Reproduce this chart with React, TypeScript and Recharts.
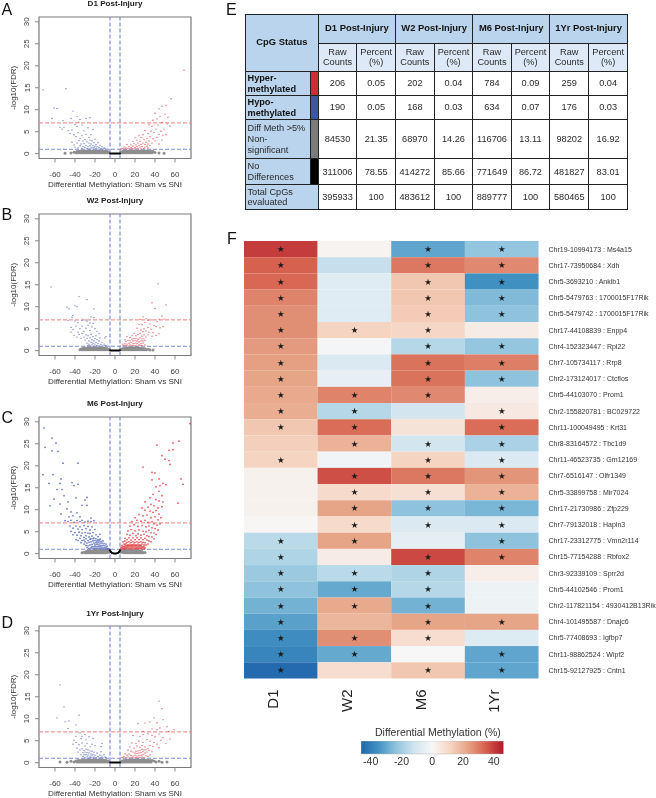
import React from "react";
import { ScatterChart, Scatter, XAxis, YAxis, ReferenceLine, ReferenceArea } from "recharts";

type P = number[];
const volcanoTicksX = [-60, -40, -20, 0, 20, 40, 60];
const volcanoTicksY = [0, 5, 10, 15, 20, 25, 30];

const aGray: P[] = [[-50,.1],[-44,.15],[-41,.3],[-39,.2],[-38,.5],[-37,.2],[-36,.55],[-35,.2],[-34,.6],[-33,.2],[-32,.6],[-31,.2],[-30,.6],[-29,.2],[-28,.6],[-27,.2],[-26,.6],[-25,.2],[-24,.6],[-23,.2],[-22,.6],[-21,.2],[-20,.6],[-19,.2],[-18,.6],[-17,.2],[-16,.6],[-15,.2],[-14,.6],[-13,.2],[-12,.6],[-11,.2],[-10,.6],[-9,.2],[-8,.55],[-7,.2],[-6,.4],[6,.4],[7,.2],[8,.55],[9,.2],[10,.6],[11,.2],[12,.6],[13,.2],[14,.6],[15,.2],[16,.6],[17,.2],[18,.6],[19,.2],[20,.6],[21,.2],[22,.6],[23,.2],[24,.6],[25,.2],[26,.6],[27,.2],[28,.6],[29,.2],[30,.6],[31,.2],[32,.6],[33,.2],[34,.6],[35,.2],[36,.55],[37,.2],[38,.5],[40,.25],[44,.15],[49,.1]];
const aBlack: P[] = [[-5,.05],[-4,.02],[-3,.02],[-2,.01],[-1,.01],[0,.01],[1,.01],[2,.01],[3,.02],[4,.02],[5,.05]];
const aBlue: P[] = [[-72,14.5],[-49,14.8],[-61,10.4],[-58,10.3],[-63,8],[-42,9.7],[-38,8.5],[-35,7.8],[-25,8.2],[-29,8],[-52,7.5],[-44,8],[-36,7.2],[-38,6.2],[-40,6.6],[-33,6.5],[-55,6],[-53,5.6],[-51,6],[-47,5.2],[-45,4.6],[-43,5.4],[-41,4.3],[-39,3.9],[-37,4.8],[-35,3.5],[-33,4.1],[-31,5.2],[-29,4.4],[-27,5.9],[-26,3.7],[-24,4.3],[-22,5.5],[-43,2.6],[-41,2],[-40,1.5],[-38,2.4],[-37,1.3],[-36,3],[-35,1.8],[-34,2.2],[-33,1.2],[-32,2.9],[-32,1.6],[-31,2.3],[-30,1.4],[-30,3.2],[-29,1.9],[-28,2.7],[-28,1.2],[-27,1.6],[-26,2.4],[-26,1.1],[-25,3.1],[-25,1.8],[-24,1.3],[-24,2.2],[-23,2.9],[-23,1.5],[-22,1.9],[-22,1.1],[-21,2.5],[-21,1.4],[-20,3.3],[-20,1.7],[-19,1.2],[-19,2.1],[-18,1.6],[-17,2.5],[-17,1.1],[-16,1.4],[-15,1.9],[-14,1.2],[-13,1.6],[-12,1.1],[-11,1.3],[-10,1.2]];
const aRed: P[] = [[69,19],[56,12.5],[51,11],[47,10.8],[44,10.2],[40,9.2],[45,8.5],[50,9],[53,8.3],[42,7.9],[38,7.6],[47,7.1],[52,6.8],[55,6.3],[43,6.5],[37,6.2],[34,6.6],[49,5.6],[46,5.1],[41,5.6],[39,4.8],[36,5.1],[33,4.6],[30,5.3],[28,4.3],[44,4.4],[48,4.2],[42,3.7],[38,3.4],[35,3.9],[32,3.5],[29,3.2],[26,3.7],[24,4.2],[22,3.1],[20,3.6],[18,2.8],[40,2.9],[37,2.4],[35,1.9],[34,2.9],[33,2.2],[33,1.3],[32,1.7],[31,2.6],[30,1.5],[30,2.1],[29,1.2],[28,2.4],[27,1.6],[26,2.1],[26,1.1],[25,2.8],[25,1.5],[24,1.9],[23,1.2],[23,2.4],[22,1.6],[21,2],[21,1.1],[20,1.4],[19,2.3],[19,1.1],[18,1.7],[17,1.2],[16,2],[16,1.4],[15,1.1],[14,1.6],[13,1.2],[12,2.1],[11,1.3],[10,1.1],[9,1.5],[8,1.1],[7,1.2],[6,1.05],[44,2.2],[47,3.1],[51,4.3]];

const bGray: P[] = [[-35,.2],[-34,.4],[-33,.2],[-32,.55],[-31,.2],[-30,.6],[-29,.2],[-28,.6],[-27,.2],[-26,.65],[-25,.2],[-24,.65],[-23,.2],[-22,.65],[-21,.2],[-20,.65],[-19,.2],[-18,.65],[-17,.2],[-16,.65],[-15,.2],[-14,.65],[-13,.2],[-12,.6],[-11,.2],[-10,.6],[-9,.2],[-8,.5],[-7,.2],[-6,.35],[6,.35],[7,.2],[8,.5],[9,.2],[10,.55],[11,.2],[12,.6],[13,.2],[14,.65],[15,.2],[16,.65],[17,.2],[18,.65],[19,.2],[20,.65],[21,.2],[22,.65],[23,.2],[24,.6],[25,.2],[26,.55],[27,.2],[28,.5],[29,.2],[30,.45],[31,.2],[33,.3],[35,.15],[38,.15]];
const bBlack: P[] = [[-5,.1],[-4,.05],[-3,.03],[-2,.02],[-1,.02],[0,.02],[1,.02],[2,.02],[3,.03],[4,.05],[5,.1]];
const bBlue: P[] = [[-64,14.5],[-36,12.3],[-28,11.6],[-48,9.9],[-46,9.5],[-40,10.2],[-38,10],[-21,9.5],[-43,7.6],[-42,8],[-29,7],[-24,7.7],[-21,7.5],[-47,6.9],[-40,6.8],[-37,6.4],[-33,6.9],[-28,6.7],[-25,6.3],[-22,6.2],[-44,5.3],[-42,4.8],[-39,5.6],[-37,4.2],[-35,5],[-33,5.6],[-31,4.4],[-29,5.1],[-27,5.8],[-25,4.6],[-23,5.4],[-20,5],[-18,4.4],[-16,3.9],[-44,4.2],[-41,3.5],[-38,3.1],[-36,3.7],[-34,2.8],[-33,3.9],[-31,3.1],[-30,2.4],[-29,3.6],[-28,1.7],[-28,2.8],[-27,1.2],[-27,3.4],[-26,2.2],[-26,1.5],[-25,2.9],[-25,1.1],[-24,3.7],[-24,1.9],[-23,2.5],[-23,1.3],[-22,3.2],[-22,1.7],[-21,2.2],[-21,1.1],[-20,2.8],[-20,1.5],[-19,3.4],[-19,1.9],[-18,1.2],[-18,2.5],[-17,1.6],[-16,2.2],[-16,1.1],[-15,2.9],[-14,1.4],[-13,1.9],[-12,1.1],[-11,1.5],[-10,2.9],[-10,1.2],[-9,1.1],[-9,3.2]];
const bRed: P[] = [[43,15.2],[37,10.9],[51,10.4],[40,9.6],[44,7.2],[47,7.9],[49,7.2],[25,7.1],[28,7.7],[31,7.3],[33,6.9],[37,7],[42,6.6],[24,6],[27,5.9],[30,6.4],[35,6.1],[39,5.7],[41,5.5],[45,5.2],[48,5.5],[33,5.3],[29,5],[26,4.7],[22,5.1],[36,4.9],[31,4.5],[28,4.3],[34,4.2],[38,4.1],[44,3.9],[41,3.5],[37,3.3],[33,3.6],[31,3.1],[29,3.6],[27,3.3],[25,3.9],[23,3.7],[21,3.4],[19,3.9],[17,3.5],[15,3],[12,3.2],[10,2.5],[30,2.3],[30,1.3],[29,2.7],[28,1.7],[28,2.2],[27,1.2],[27,2.7],[26,1.6],[26,2.2],[25,1.2],[25,2.9],[24,2],[24,1.3],[23,2.6],[22,1.6],[22,2.2],[21,1.1],[21,2.8],[20,1.7],[20,2.3],[19,1.2],[19,2.8],[18,1.6],[18,2.2],[17,1.2],[17,2.6],[16,1.9],[15,1.3],[15,2.3],[14,1.7],[13,1.1],[13,2.3],[12,1.5],[11,1.2],[11,2.1],[10,1.6],[9,1.2],[8,1.5],[8,1.1]];

const cGray: P[] = [[-33,.2],[-31,.3],[-30,.2],[-29,.5],[-28,.2],[-27,.6],[-26,.2],[-25,.65],[-24,.2],[-23,.65],[-22,.2],[-21,.7],[-20,.2],[-19,.7],[-18,.2],[-17,.7],[-16,.2],[-15,.7],[-14,.2],[-13,.7],[-12,.2],[-11,.7],[-10,.2],[-9,.7],[-8,.25],[-7,.7],[-6,.35],[-5.5,.75],[5.5,.75],[6,.35],[7,.7],[8,.25],[9,.7],[10,.2],[11,.7],[12,.2],[13,.7],[14,.2],[15,.7],[16,.2],[17,.7],[18,.2],[19,.7],[20,.2],[21,.65],[22,.2],[23,.65],[24,.2],[25,.6],[26,.2],[27,.5],[28,.2],[30,.25]];
const cBlack: P[] = [[-5,.8],[-4.5,.55],[-4,.4],[-3.5,.25],[-3,.15],[-2,.1],[-1,.05],[0,.05],[1,.05],[2,.1],[3,.15],[3.5,.25],[4,.4],[4.5,.55],[5,.8]];
const cBlue: P[] = [[-71,28.6],[-70,24.2],[-63,26.3],[-59,25.2],[-63,23.4],[-57,23.3],[-52,20.6],[-37,20.6],[-72,18],[-62,18],[-66,16],[-54,17],[-55,16],[-43,16.2],[-37,15.8],[-41,15.5],[-58,14.6],[-53,14.6],[-51,13.2],[-61,12.4],[-39,12.7],[-28,12.8],[-30,12.2],[-47,11.8],[-65,10.9],[-55,11.3],[-28,11],[-33,11],[-48,10.2],[-44,9.5],[-38,9.3],[-54,9],[-35,8.4],[-42,8.6],[-46,8.4],[-24,8.1],[-50,7.5],[-47,7.3],[-44,7.6],[-41,7.1],[-38,7.5],[-35,7.3],[-33,7.6],[-30,7.2],[-27,7.4],[-24,7.3],[-21,7.5],[-45,6.3],[-42,5.8],[-39,6.3],[-37,5.6],[-35,6.1],[-33,5.5],[-31,6.4],[-29,5.7],[-27,6.2],[-25,5.4],[-23,6.1],[-20,5.5],[-44,5.1],[-42,4.3],[-40,4.8],[-38,4.2],[-36,4.9],[-34,4.1],[-33,4.7],[-31,3.7],[-30,4.8],[-29,4.1],[-27,4.7],[-26,3.8],[-25,4.6],[-23,4],[-22,4.8],[-21,3.6],[-19,4.3],[-17,3.9],[-15,4.4],[-39,3.2],[-37,3],[-35,3.5],[-34,2.5],[-33,3],[-31,2.2],[-31,3.1],[-30,2.7],[-29,1.9],[-29,3.4],[-28,2.4],[-28,1.4],[-27,3],[-27,1.8],[-26,2.6],[-26,1.2],[-25,3.3],[-25,2],[-24,2.7],[-24,1.3],[-24,3.4],[-23,2.1],[-23,1.6],[-22,2.9],[-22,1.2],[-22,3.4],[-21,2.4],[-21,1.6],[-20,3],[-20,2],[-20,1.2],[-19,3.4],[-19,2.5],[-19,1.6],[-18,2.9],[-18,2.1],[-18,1.2],[-17,3.2],[-17,2.5],[-17,1.6],[-16,2.9],[-16,2],[-16,1.2],[-15,3.3],[-15,2.4],[-15,1.6],[-14,2.8],[-14,1.9],[-14,1.2],[-13,2.4],[-13,1.5],[-12,2.9],[-12,1.9],[-12,1.1],[-11,2.3],[-11,1.4],[-10,1.8],[-10,1.1],[-9,2.2],[-9,1.4],[-8,1.1],[-8,1.7],[-7,1.2],[-6,1.1]];
const cRed: P[] = [[75,29.6],[64,25.6],[58,25.2],[42,24.7],[54,23.5],[58,23.7],[47,22.3],[50,21.5],[54,21.2],[55,20.3],[28,19.7],[37,18.5],[40,18.4],[44,17],[66,17],[68,15.8],[48,16],[45,15.5],[51,15.7],[37,16.8],[41,15.2],[44,14.2],[38,13.5],[47,13.2],[35,12.7],[41,12.3],[44,12],[48,11.8],[63,11.5],[30,11.8],[36,11.2],[33,10.6],[39,10.9],[43,10.4],[47,10.7],[27,10.4],[30,9.9],[35,9.7],[38,9.4],[41,9.8],[44,9],[46,8.2],[20,8.2],[24,8.9],[28,8.6],[32,8.8],[36,8.2],[40,8.4],[43,7.7],[17,7.3],[22,7.6],[26,7.4],[30,7.6],[33,7.1],[37,7.3],[39,6.8],[42,6.5],[45,6.8],[15,6.3],[19,6.6],[23,6.2],[27,6.4],[31,6.1],[34,6.3],[37,5.9],[40,5.7],[43,5.4],[13,5.2],[16,5.5],[20,5.2],[24,5.4],[28,5.1],[31,5],[34,5.3],[36,4.8],[39,4.7],[41,4.4],[12,4.4],[15,4.2],[18,4.6],[21,4.1],[23,4.5],[26,4.2],[29,4.4],[32,4.1],[34,3.9],[37,3.8],[39,3.4],[10,3.5],[12,3.2],[14,3.6],[16,3.1],[18,3.6],[20,3.2],[22,3.6],[24,3.2],[26,3.6],[28,3.2],[30,3.5],[32,3.1],[34,2.9],[36,2.7],[8,2.7],[9,2.2],[10,2.9],[11,2.3],[12,2.6],[13,2],[14,2.7],[15,2.2],[16,2.6],[17,2],[18,2.7],[19,2.2],[20,2.6],[21,2],[22,2.7],[23,2.2],[24,2.6],[25,2],[26,2.7],[27,2.2],[28,2.6],[29,2],[30,2.5],[31,2],[33,2.2],[6,1.5],[6,1.1],[7,1.9],[7,1.3],[8,1.6],[8,1.1],[9,1.6],[9,1.2],[10,2],[10,1.5],[10,1.1],[11,1.7],[11,1.2],[12,1.9],[12,1.4],[13,1.6],[13,1.1],[14,1.9],[14,1.3],[15,1.7],[15,1.1],[16,1.9],[16,1.4],[17,1.6],[17,1.1],[18,2],[18,1.4],[19,1.7],[19,1.1],[20,1.9],[20,1.3],[21,1.6],[21,1.1],[22,1.9],[22,1.3],[23,1.6],[23,1.1],[24,1.9],[24,1.3],[25,1.6],[25,1.1],[26,1.9],[26,1.3],[27,1.6],[27,1.1],[28,1.4],[29,1.6],[29,1.1],[30,1.3]];

const dGray: P[] = [[-55,.15],[-48,.1],[-44,.3],[-41,.15],[-39,.4],[-38,.15],[-37,.5],[-36,.15],[-35,.5],[-34,.15],[-33,.55],[-32,.15],[-31,.55],[-30,.15],[-29,.6],[-28,.15],[-27,.6],[-26,.15],[-25,.6],[-24,.15],[-23,.6],[-22,.15],[-21,.6],[-20,.15],[-19,.6],[-18,.15],[-17,.6],[-16,.15],[-15,.6],[-14,.15],[-13,.6],[-12,.15],[-11,.55],[-10,.15],[-9,.5],[-8,.15],[-7,.4],[-6,.15],[6,.15],[7,.4],[8,.15],[9,.5],[10,.15],[11,.55],[12,.15],[13,.6],[14,.15],[15,.6],[16,.15],[17,.6],[18,.15],[19,.6],[20,.15],[21,.6],[22,.15],[23,.6],[24,.15],[25,.6],[26,.15],[27,.6],[28,.15],[29,.6],[30,.15],[31,.55],[32,.15],[33,.55],[34,.15],[35,.5],[36,.15],[37,.5],[39,.4],[41,.15],[44,.3],[47,.1],[52,.15]];
const dBlack: P[] = [[-5,.05],[-4,.03],[-3,.02],[-2,.01],[-1,.01],[0,.01],[1,.01],[2,.01],[3,.02],[4,.03],[5,.05]];
const dBlue: P[] = [[-55,17.7],[-51,12.7],[-36,10.8],[-58,10.2],[-50,9.3],[-46,9.5],[-39,8.6],[-47,7.8],[-35,6.8],[-39,6],[-30,6.4],[-26,5.9],[-41,5.1],[-34,5.5],[-33,6],[-29,5.2],[-22,5.5],[-42,4.2],[-39,4.6],[-36,4.1],[-33,4.5],[-30,3.8],[-28,4.4],[-25,3.6],[-23,4.2],[-20,3.9],[-13,4.4],[-14,3.7],[-38,3.3],[-37,2.4],[-35,2.9],[-34,1.8],[-33,3.2],[-32,2.3],[-32,1.4],[-31,2.8],[-31,1.8],[-30,2.4],[-30,1.2],[-29,3.1],[-29,1.8],[-28,2.3],[-28,1.3],[-27,2.9],[-27,1.7],[-26,2.2],[-26,1.1],[-25,2.7],[-25,1.5],[-24,2],[-24,1.2],[-23,2.6],[-23,1.6],[-22,1.9],[-22,1.1],[-21,2.4],[-21,1.3],[-20,1.7],[-19,1.2],[-18,2.2],[-17,1.4],[-16,1.1],[-15,1.7],[-14,2.5],[-14,1.2],[-13,1.5],[-12,1.1],[-11,1.8],[-10,1.3],[-9,1.2]];
const dRed: P[] = [[44,14],[47,12.3],[39,10.2],[48,9.8],[23,8.9],[30,9],[35,9.3],[42,9.1],[45,7.9],[52,8.2],[59,7.5],[54,7.1],[42,7.5],[37,7.7],[28,7.1],[33,6.6],[18,6.2],[25,6],[28,6.4],[37,6.2],[44,6.5],[40,5.9],[48,5.7],[55,5.4],[46,5.1],[51,4.4],[32,5.3],[35,4.9],[39,4.6],[42,4.2],[44,3.4],[28,4.6],[24,4.9],[21,4.4],[17,4.5],[38,3.7],[35,3.9],[33,3.2],[30,3.6],[27,3.9],[25,3.5],[22,3.8],[19,3.3],[15,3.6],[13,2.9],[37,2.5],[35,1.8],[34,2.8],[33,1.4],[32,2.4],[31,2.9],[31,1.6],[30,2.2],[29,1.2],[29,2.9],[28,1.8],[28,2.5],[27,1.3],[27,3],[26,1.7],[26,2.3],[25,1.2],[25,2.8],[24,1.6],[24,2.2],[23,1.1],[23,2.7],[22,1.5],[22,2.1],[21,1.2],[21,2.6],[20,1.7],[20,2.2],[19,1.1],[18,1.5],[18,2.4],[17,1.2],[16,2.6],[16,1.6],[15,1.1],[14,2],[13,1.3],[12,1.7],[11,1.2],[10,2],[9,1.4],[8,1.1],[7,1.2]];

const panelLetters = ["A", "B", "C", "D", "E", "F"];
const panelTitles = ["D1 Post-Injury", "W2 Post-Injury", "M6 Post-Injury", "1Yr Post-Injury"];

const statusLabels = ["Hyper-\nmethylated", "Hypo-\nmethylated", "Diff Meth >5%\nNon-\nsignificant", "No\nDifferences", "Total CpGs\nevaluated"];
const statusSwatches = ["#d22c33", "#3c55a5", "#7c7c7c", "#000000"];
const d1Raw = ["206", "190", "84530", "311006", "395933"];
const d1Pct = ["0.05", "0.05", "21.35", "78.55", "100"];
const w2Raw = ["202", "168", "68970", "414272", "483612"];
const w2Pct = ["0.04", "0.03", "14.26", "85.66", "100"];
const m6Raw = ["784", "634", "116706", "771649", "889777"];
const m6Pct = ["0.09", "0.07", "13.11", "86.72", "100"];
const y1Raw = ["259", "176", "98202", "481827", "580465"];
const y1Pct = ["0.04", "0.03", "16.92", "83.01", "100"];

const geneLabels = ["Chr19-10994173 : Ms4a15","Chr17-73950684 : Xdh","Chr5-3693210 : Ankib1","Chr5-5479763 : 1700015F17Rik","Chr5-5479742 : 1700015F17Rik","Chr17-44108839 : Enpp4","Chr4-152323447 : Rpl22","Chr7-105734117 : Rrp8","Chr2-173124017 : Ctcflos","Chr5-44103070 : Prom1","Chr2-155820781 : BC029722","Chr11-100049495 : Krt31","Chr8-83164572 : Tbc1d9","Chr11-46523735 : Gm12169","Chr7-6516147 : Olfr1349","Chr5-33899758 : Mir7024","Chr17-21730986 : Zfp229","Chr7-79132018 : Hapln3","Chr17-23312775 : Vmn2r114","Chr15-77154288 : Rbfox2","Chr3-92339109 : Sprr2d","Chr5-44102546 : Prom1","Chr2-117821154 : 4930412B13Rik","Chr4-101495587 : Dnajc6","Chr5-77408693 : Igfbp7","Chr11-98862524 : Wipf2","Chr15-92127925 : Cntn1"];
const heatCols = ["D1", "W2", "M6", "1Yr"];
const d1Heat = [41,35,34,29,27,27,25,24,23,22,21,15,13,12,2,2,2,.5,-16,-18,-22,-24,-28,-32,-37,-39,-46];
const w2Heat = [1.5,-14,-7,-7,-7.5,12,-1,-9,-5,29,-17,33,20,-2,38,10,23,10,23,4,-16,-30,22,19,27,-30,9];
const m6Heat = [-31,31,15,15,14,11,-17,32,32,28,-11,7,-11,12,31,8,-24,-9,-6,39,-18,-17,-28,23,9,0,15];
const y1Heat = [-23,28,-36,-26,-24,4,-23,30,-24,3,5,33,-19,-9,26,20,-27,-9,-24,29,3,-3,-3,23,-8,-31,-31];
const d1Star = [1,1,1,1,1,1,1,1,1,1,1,1,0,1,0,0,0,0,1,1,1,1,1,1,1,1,1];
const w2Star = [0,0,0,0,0,1,0,0,0,1,1,1,1,0,1,1,1,1,1,0,1,1,1,0,1,1,0];
const m6Star = [1,1,1,1,1,1,1,1,1,1,0,0,1,1,1,1,1,1,0,1,1,1,1,1,1,0,1];
const y1Star = [1,1,1,1,1,0,1,1,1,0,1,1,1,1,1,1,1,1,1,1,0,0,0,1,0,1,1];

const rampValues = [-47,-35.25,-23.5,-11.75,0,11.75,23.5,35.25,47];
const rampColors = ["#2166ac","#4393c3","#92c5de","#d1e5f0","#f7f7f7","#f6d5c3","#e6a385","#d6604d","#b2182b"];
const legendTicks = [-40,-20,0,20,40];

const FONT = "'Liberation Sans', Arial, sans-serif";
const hexToRgb = (h: string) => [1, 3, 5].map((i) => parseInt(h.slice(i, i + 2), 16));
function heatColor(v: number) {
  let i = 0;
  while (i < rampValues.length - 2 && v > rampValues[i + 1]) i++;
  const t = (v - rampValues[i]) / (rampValues[i + 1] - rampValues[i]);
  const a = hexToRgb(rampColors[i]);
  const b = hexToRgb(rampColors[i + 1]);
  return `rgb(${a.map((c, k) => Math.round(c + (b[k] - c) * t)).join(",")})`;
}

const toPts = (l: P[]) => l.map(([x, y]) => ({ x, y }));
const dot = (fill: string, r: number, op = 1) => (p: any) => <circle cx={p.cx} cy={p.cy} r={r} fill={fill} fillOpacity={op} />;

const RotTick = (p: any) => (
  <text x={27} y={p.y} transform={`rotate(-90 27 ${p.y})`} textAnchor="middle" dominantBaseline="central" fontSize={8} fill="#444" fontFamily={FONT}>{p.payload.value}</text>
);

function Volcano({ title, frameTop, gray, black, blue, red, r }: any) {
  const H = 141.5;
  return (
    <div style={{ position: "absolute", left: 0, top: frameTop - 18 }}>
      <div style={{ position: "absolute", left: 15, width: 200, top: 0.5, textAlign: "center", fontFamily: FONT, fontWeight: 700, fontSize: 8.1, color: "#222", lineHeight: "10px" }}>{title}</div>
      <ScatterChart width={205} height={18 + H + 38} margin={{ top: 18, left: 0, right: 14, bottom: 0 }}>
        <XAxis type="number" dataKey="x" domain={[-76, 76]} ticks={volcanoTicksX} interval={0} height={38} axisLine={false} tickLine={{ stroke: "#888" }} tickSize={4} tickMargin={9} tick={{ fontSize: 8, fill: "#444", fontFamily: FONT }}
          label={{ value: "Differential Methylation: Sham vs SNI", position: "insideBottom", offset: 10, fontSize: 8.1, fill: "#333", fontFamily: FONT }} />
        <YAxis type="number" dataKey="y" domain={[-1.1, 31.1]} ticks={volcanoTicksY} interval={0} width={39} axisLine={false} tickLine={{ stroke: "#888" }} tickSize={4} tick={RotTick}
          label={{ value: "-log10(FDR)", angle: -90, position: "insideLeft", offset: 13, fontSize: 8, fill: "#333", fontFamily: FONT, style: { textAnchor: "middle" } }} />
        <Scatter data={toPts(gray)} isAnimationActive={false} shape={dot("#8e8e8e", 1.5)} />
        <Scatter data={toPts(black)} isAnimationActive={false} shape={dot("#000", 1)} />
        <Scatter data={toPts(blue)} isAnimationActive={false} shape={dot("#4058b4", r, .85)} />
        <Scatter data={toPts(red)} isAnimationActive={false} shape={dot("#de2f33", r, .85)} />
        <ReferenceLine y={7} stroke="#ee7f78" strokeDasharray="4 2" />
        <ReferenceLine y={1} stroke="#7f8fd8" strokeDasharray="4 2" />
        <ReferenceLine x={-5} stroke="#7f8fd8" strokeDasharray="4 2" strokeWidth={1.2} />
        <ReferenceLine x={5} stroke="#7f8fd8" strokeDasharray="4 2" strokeWidth={1.2} />
        <ReferenceArea x1={-76} x2={76} y1={-1.1} y2={31.1} fill="none" stroke="#7a7a7a" strokeWidth={1.2} />
      </ScatterChart>
    </div>
  );
}

const colW = [65, 7.7, 38.6, 38.7, 38.7, 38.6, 38.4, 38.6, 39, 38.7];
const rowH = [29, 28.7, 24, 24.3, 39, 26, 24.7];
const HEAD = "#b9d4ec";
const SUB = "#dde9f6";
const bd = "1px solid #222";
const cell: React.CSSProperties = { border: bd, padding: 0, textAlign: "center", verticalAlign: "middle", overflow: "hidden" };

function StatusTable() {
  const cols = [d1Raw, d1Pct, w2Raw, w2Pct, m6Raw, m6Pct, y1Raw, y1Pct];
  return (
    <table style={{ position: "absolute", left: 245, top: 13.5, width: 382, tableLayout: "fixed", borderCollapse: "collapse", fontFamily: FONT, fontSize: 9.2, lineHeight: "10.8px", color: "#2a2a2a", border: "1.5px solid #666", background: "#fff" }}>
      <colgroup>{colW.map((w, i) => <col key={i} style={{ width: w }} />)}</colgroup>
      <tbody>
        <tr style={{ height: rowH[0] }}>
          <td colSpan={2} rowSpan={2} style={{ ...cell, background: HEAD, fontWeight: 700, fontSize: 9.4, color: "#111" }}>CpG Status</td>
          {panelTitles.map((t) => <td key={t} colSpan={2} style={{ ...cell, background: HEAD, fontWeight: 700, fontSize: 9.4, color: "#111" }}>{t}</td>)}
        </tr>
        <tr style={{ height: rowH[1] }}>
          {cols.map((_, i) => <td key={i} style={{ ...cell, background: SUB }}>{i % 2 === 0 ? <>Raw<br />Counts</> : <>Percent<br />(%)</>}</td>)}
        </tr>
        {statusLabels.map((s, r) => (
          <tr key={s} style={{ height: rowH[r + 2] }}>
            <td colSpan={r === 4 ? 2 : 1} style={{ ...cell, background: HEAD, textAlign: "left", paddingLeft: 1.5, fontWeight: r < 2 ? 700 : 400, color: r < 2 ? "#111" : "#2a2a2a", whiteSpace: "pre-line" }}>{s}</td>
            {r < 4 && <td style={{ ...cell, background: statusSwatches[r] }} />}
            {cols.map((c, i) => <td key={i} style={cell}>{c[r]}</td>)}
          </tr>
        ))}
      </tbody>
    </table>
  );
}

const heatData = heatCols.flatMap((_, c) => {
  const vals = [d1Heat, w2Heat, m6Heat, y1Heat][c];
  const stars = [d1Star, w2Star, m6Star, y1Star][c];
  return vals.map((v, r) => ({ col: c, row: r, v, star: stars[r] }));
});
const rowIdx = geneLabels.map((_, i) => i);
const colIdx = heatCols.map((_, i) => i);
const CELL_W = 73.7;
const CELL_H = 16.2;
const HeatCell = (p: any) => {
  const d = p.payload;
  return (
    <g>
      <rect x={p.cx - CELL_W / 2} y={p.cy - CELL_H / 2} width={CELL_W} height={CELL_H} fill={heatColor(d.v)} />
      {d.star ? <text x={p.cx} y={p.cy} textAnchor="middle" dominantBaseline="central" fontSize={8.5} fill="#1a1a1a" fontFamily="'DejaVu Sans'">★</text> : null}
    </g>
  );
};
const GeneTick = (p: any) => (
  <text x={p.x + 10} y={p.y} dominantBaseline="central" fontSize={7} fill="#333" fontFamily={FONT}>{geneLabels[p.payload.value]}</text>
);
const ColTick = (p: any) => (
  <text x={p.x - 8} y={p.y} transform={`rotate(-90 ${p.x - 8} ${p.y})`} textAnchor="end" dominantBaseline="central" fontSize={15} fill="#222" fontFamily={FONT}>{heatCols[p.payload.value]}</text>
);

function Heatmap() {
  return (
    <div style={{ position: "absolute", left: 243.5, top: 241 }}>
      <ScatterChart width={412} height={437.5 + 40} margin={{ top: 0, left: 0, right: 0, bottom: 0 }}>
        <XAxis type="number" dataKey="col" domain={[-0.5, 3.5]} ticks={colIdx} interval={0} height={40} axisLine={false} tickLine={false} tickSize={0} tickMargin={0} tick={(p: any) => <ColTick {...p} y={689.5 - 241} />} />
        <YAxis type="number" dataKey="row" orientation="right" reversed domain={[-0.5, 26.5]} ticks={rowIdx} interval={0} width={117.5} axisLine={false} tickLine={false} tickSize={0} tickMargin={0} tick={GeneTick} />
        <Scatter data={heatData} isAnimationActive={false} shape={HeatCell} />
      </ScatterChart>
    </div>
  );
}

const legendStops = rampValues.map((v, i) => ({ off: ((v + 47) / 94) * 100, c: rampColors[i] }));
const legendMarks = legendTicks.map((x) => ({ x, y: 0.5 }));
function ColorLegend() {
  return (
    <div style={{ position: "absolute", left: 361, top: 740.5 }}>
      <ScatterChart width={142.5} height={30} margin={{ top: 0, left: 0, right: 0, bottom: 0 }}>
        <defs>
          <linearGradient id="dm" x1="0" x2="1" y1="0" y2="0">
            {legendStops.map((s) => <stop key={s.off} offset={`${s.off}%`} stopColor={s.c} />)}
          </linearGradient>
        </defs>
        <XAxis type="number" dataKey="x" domain={[-46.3, 46.3]} ticks={legendTicks} interval={0} height={17} axisLine={false} tickLine={false} tickSize={0} tickMargin={4} tick={{ fontSize: 10.5, fill: "#333", fontFamily: FONT }} />
        <YAxis type="number" dataKey="y" domain={[0, 1]} hide />
        <ReferenceArea x1={-46.3} x2={46.3} y1={0} y2={1} fill="url(#dm)" fillOpacity={1} stroke="#bbb" strokeWidth={.5} />
        <Scatter data={legendMarks} isAnimationActive={false} shape={() => <g />} />
      </ScatterChart>
    </div>
  );
}

const letterPos = [[1.5, 10], [1.5, 215], [1.5, 418], [1.5, 623], [226, 10], [227, 239]];

export default function App() {
  return (
    <div style={{ position: "absolute", left: 0, top: 0, width: 656, height: 798, overflow: "hidden", background: "#fff", fontFamily: FONT, filter: "blur(0.3px)" }}>
      <Volcano title={panelTitles[0]} frameTop={16.7} gray={aGray} black={aBlack} blue={aBlue} red={aRed} r={.65} />
      <Volcano title={panelTitles[1]} frameTop={213.7} gray={bGray} black={bBlack} blue={bBlue} red={bRed} r={.65} />
      <Volcano title={panelTitles[2]} frameTop={416.7} gray={cGray} black={cBlack} blue={cBlue} red={cRed} r={.85} />
      <Volcano title={panelTitles[3]} frameTop={626} gray={dGray} black={dBlack} blue={dBlue} red={dRed} r={.65} />
      <StatusTable />
      <Heatmap />
      <div style={{ position: "absolute", left: 375, top: 727, fontSize: 10.5, lineHeight: "11px", color: "#333", whiteSpace: "nowrap" }}>Differential Methylation (%)</div>
      <ColorLegend />
      {panelLetters.map((l, i) => (
        <div key={l} style={{ position: "absolute", left: letterPos[i][0], top: letterPos[i][1] - 9, fontSize: 16, lineHeight: "18px", color: "#111" }}>{l}</div>
      ))}
    </div>
  );
}
